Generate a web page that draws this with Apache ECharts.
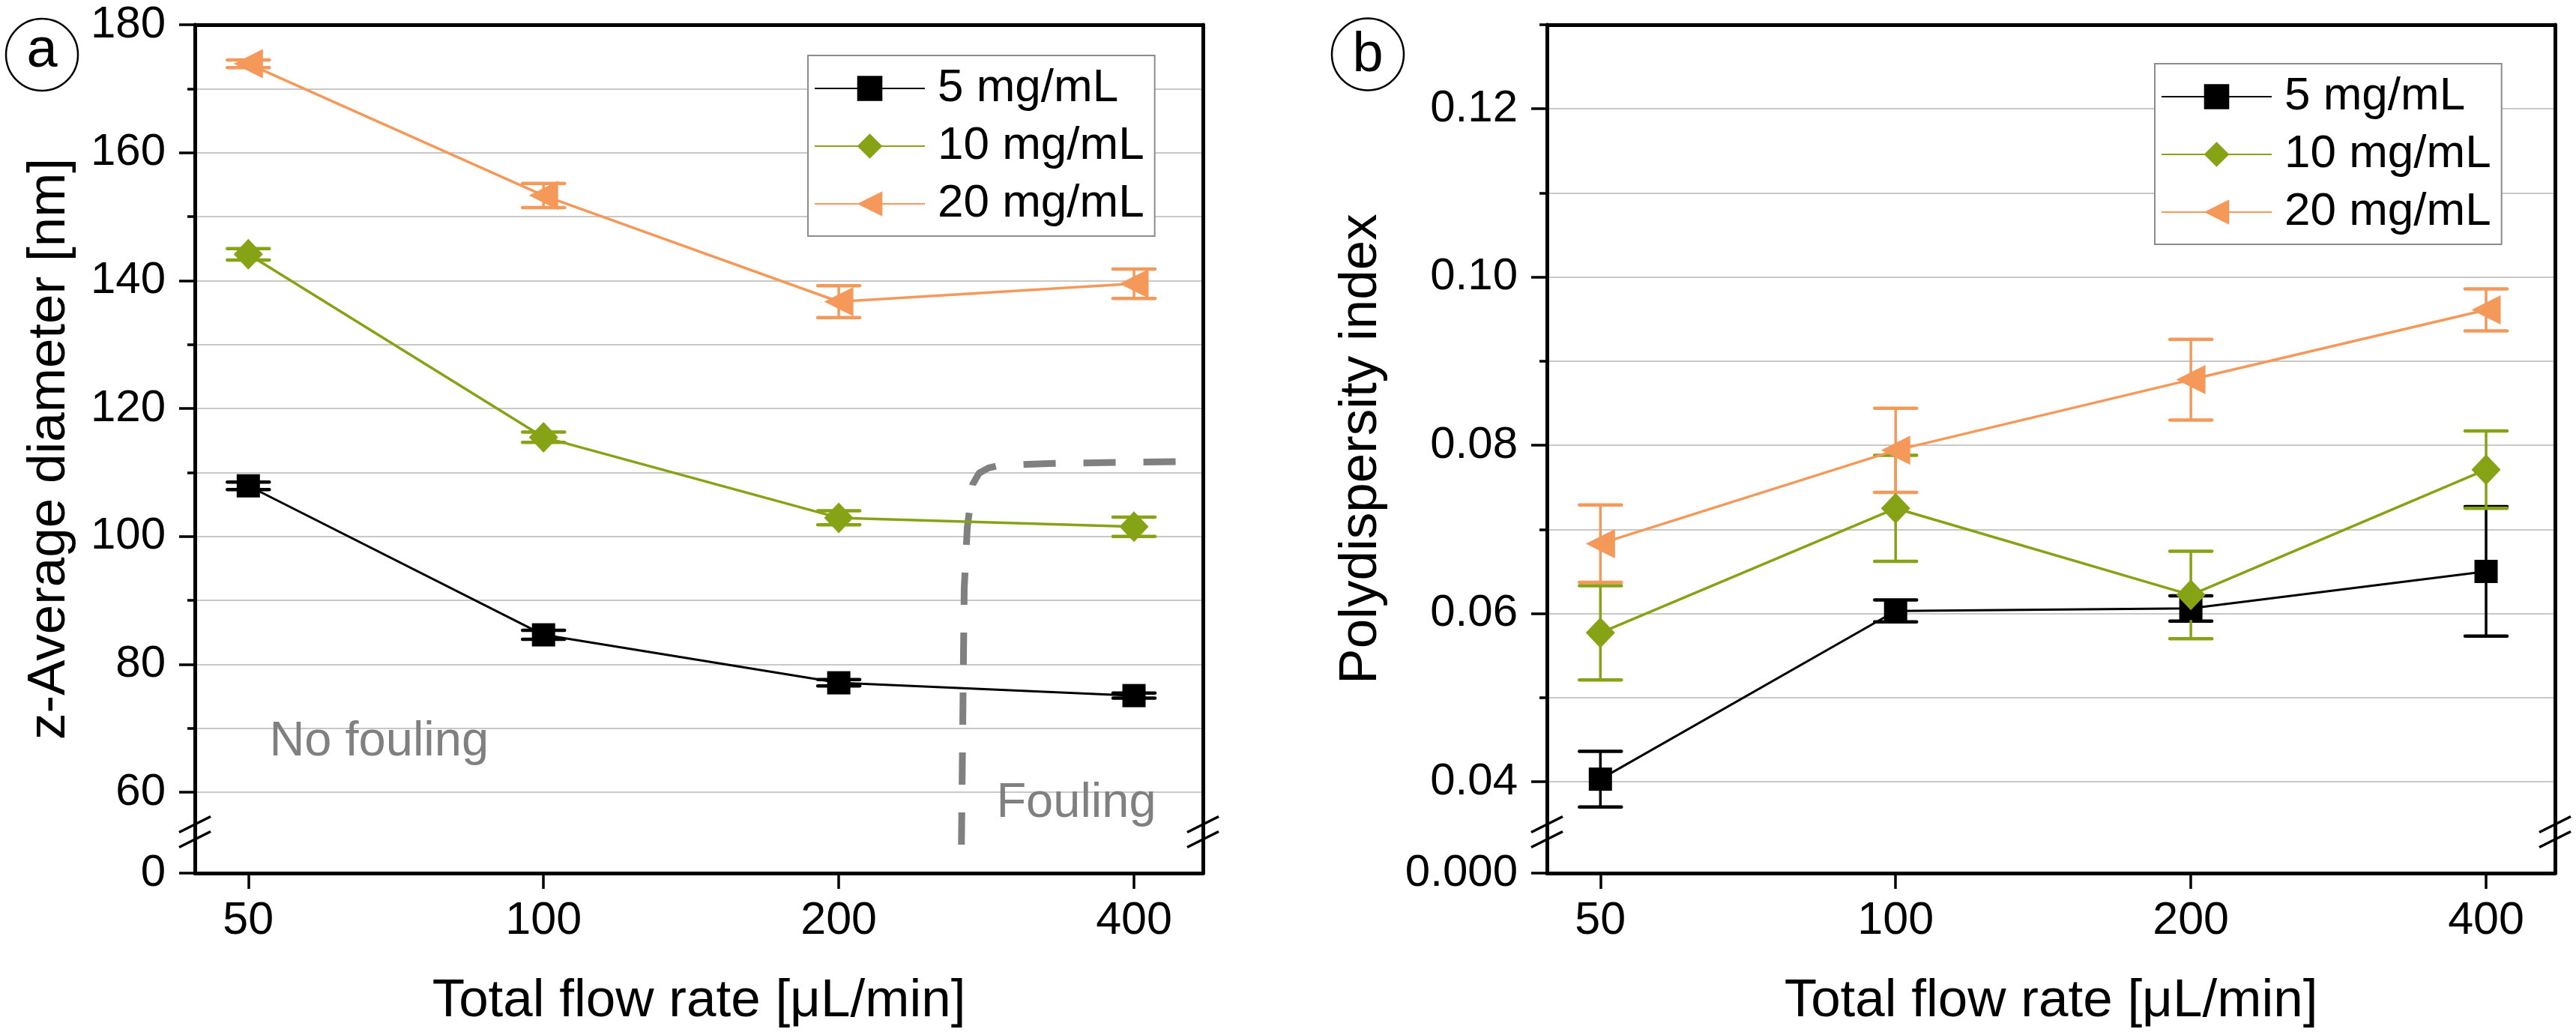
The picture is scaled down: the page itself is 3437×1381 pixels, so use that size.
<!DOCTYPE html>
<html>
<head>
<meta charset="utf-8">
<script src="https://cdn.jsdelivr.net/npm/echarts@6/dist/echarts.min.js"></script>
<style>
  html, body { margin: 0; padding: 0; background: #fff; }
  #chart { width: 3437px; height: 1381px; }
</style>
</head>
<body>
<div id="chart"></div>
<script>
// categories (x positions 0..3 on the axis)
const flowRates = ['50', '100', '200', '400'];
const seriesNames = ['5 mg/mL', '10 mg/mL', '20 mg/mL'];

// (a) z-average diameter [nm] and error
const zAvg5 = [107.9, 84.6, 77.1, 75.1];
const zAvg5Err = [0.6, 0.7, 0.5, 0.4];
const zAvg10 = [144.1, 115.5, 102.9, 101.5];
const zAvg10Err = [0.9, 0.8, 1.1, 1.5];
const zAvg20 = [173.9, 153.3, 136.7, 139.5];
const zAvg20Err = [0.6, 1.9, 2.5, 2.3];

// (b) polydispersity index and error
const pdi5 = [0.0403, 0.0603, 0.0606, 0.0650];
const pdi5Err = [0.0033, 0.0013, 0.0015, 0.0077];
const pdi10 = [0.0577, 0.0725, 0.0622, 0.0771];
const pdi10Err = [0.0056, 0.0063, 0.0052, 0.0046];
const pdi20 = [0.0683, 0.0794, 0.0878, 0.0961];
const pdi20Err = [0.0046, 0.0050, 0.0048, 0.0025];

// fouling boundary drawn in panel (a)
const foulingX = [2.4155, 2.4249, 2.4353, 2.4543, 2.4754, 2.5069, 2.5437, 2.712, 3.1586];
const foulingY = [51.8, 91.8, 101.4, 108.2, 109.9, 110.7, 111.1, 111.4, 111.7];

const FONT = 'Liberation Sans, Arial, sans-serif';
const BLACK = '#000000';
const GREEN = '#86a315';
const ORANGE = '#f5995b';
const GRID_GRAY = '#c8c8c8';

const X_MIN = -0.181;
const X_MAX = 3.2335;

function lineSeries(name, vals, color, symbol, size, rotate, xi, yi, width) {
  return {
    type: 'line',
    name: name,
    xAxisIndex: xi,
    yAxisIndex: yi,
    data: vals.map((v, i) => [i, v]),
    symbol: symbol,
    symbolSize: size,
    symbolRotate: rotate,
    showAllSymbol: true,
    lineStyle: { color: color, width: width },
    itemStyle: { color: color },
    z: 4,
    silent: true
  };
}

function errorSeries(name, vals, errs, color, xi, yi) {
  return {
    type: 'custom',
    name: name + ' err',
    xAxisIndex: xi,
    yAxisIndex: yi,
    clip: false,
    silent: true,
    z: 3,
    data: vals.map((v, i) => [i, v - errs[i], v + errs[i]]),
    renderItem: function (params, api) {
      const lo = api.coord([api.value(0), api.value(1)]);
      const hi = api.coord([api.value(0), api.value(2)]);
      const half = 28;
      const cap = { stroke: color, lineWidth: 4.5, lineCap: 'round' };
      return {
        type: 'group',
        children: [
          { type: 'line', shape: { x1: lo[0], y1: lo[1], x2: hi[0], y2: hi[1] }, style: { stroke: color, lineWidth: 3.5 } },
          { type: 'line', shape: { x1: lo[0] - half, y1: lo[1], x2: lo[0] + half, y2: lo[1] }, style: cap },
          { type: 'line', shape: { x1: hi[0] - half, y1: hi[1], x2: hi[0] + half, y2: hi[1] }, style: cap }
        ]
      };
    }
  };
}

const axisLineStyle = { show: true, onZero: false, lineStyle: { color: BLACK, width: 5 } };
const hidden = { show: false };

function frameAxes(gridIndex, xName, yName, yGap) {
  return {
    x: {
      type: 'value', gridIndex: gridIndex, min: 0, max: 1,
      axisLine: hidden, axisTick: hidden, axisLabel: hidden, splitLine: hidden,
      name: xName, nameLocation: 'middle', nameGap: 136,
      nameTextStyle: { fontSize: 71, color: BLACK, fontFamily: FONT }
    },
    y: {
      type: 'value', gridIndex: gridIndex, min: 0, max: 1,
      axisLine: hidden, axisTick: hidden, axisLabel: hidden, splitLine: hidden,
      name: yName, nameLocation: 'middle', nameGap: yGap, nameRotate: 90,
      nameTextStyle: { fontSize: 71, color: BLACK, fontFamily: FONT }
    }
  };
}

function topXAxis(gridIndex) {
  return {
    type: 'value', gridIndex: gridIndex, position: 'top', min: X_MIN, max: X_MAX,
    axisLine: axisLineStyle, axisTick: hidden, axisLabel: hidden, splitLine: hidden
  };
}

function bottomXAxis(gridIndex) {
  return {
    type: 'value', gridIndex: gridIndex, position: 'bottom', min: X_MIN, max: X_MAX,
    axisLine: axisLineStyle,
    axisTick: { show: true, customValues: [0, 1, 2, 3], length: 21, lineStyle: { color: BLACK, width: 3.5 } },
    axisLabel: {
      show: true, customValues: [0, 1, 2, 3], margin: 34,
      fontSize: 61, color: BLACK, fontFamily: FONT,
      formatter: function (v) { return flowRates[Math.round(v)]; }
    },
    splitLine: hidden
  };
}

function rightYAxis(gridIndex, min, max) {
  return {
    type: 'value', gridIndex: gridIndex, position: 'right', min: min, max: max,
    axisLine: axisLineStyle, axisTick: hidden, axisLabel: hidden, splitLine: hidden
  };
}

const fa = frameAxes(0, 'Total flow rate [μL/min]', 'z-Average diameter [nm]', 158);
const fb = frameAxes(3, 'Total flow rate [μL/min]', 'Polydispersity index', 212);

const xAxes = [
  fa.x, topXAxis(1), bottomXAxis(2),
  fb.x, topXAxis(4), bottomXAxis(5)
];

const yAxes = [
  fa.y,
  // 1: upper (a) main axis, minor ticks + grid lines
  {
    type: 'value', gridIndex: 1, position: 'left', min: 60, max: 180, interval: 10,
    axisLine: axisLineStyle,
    axisTick: { show: true, length: 10, lineStyle: { color: BLACK, width: 3.5 } },
    axisLabel: {
      show: true, margin: 39, fontSize: 60, color: BLACK, fontFamily: FONT,
      formatter: function (v) { return Math.round(v) % 20 === 0 ? String(Math.round(v)) : ''; }
    },
    splitLine: { show: true, lineStyle: { color: GRID_GRAY, width: 2 } }
  },
  // 2: upper (a) major ticks
  {
    type: 'value', gridIndex: 1, position: 'left', min: 60, max: 180, interval: 20,
    axisLine: { show: false, onZero: false },
    axisTick: { show: true, length: 21, lineStyle: { color: BLACK, width: 3.5 } },
    axisLabel: hidden, splitLine: hidden
  },
  rightYAxis(1, 60, 180),
  // 4: lower (a)
  {
    type: 'value', gridIndex: 2, position: 'left', min: 0, max: 1, interval: 1,
    axisLine: axisLineStyle,
    axisTick: { show: true, length: 21, lineStyle: { color: BLACK, width: 3.5 } },
    axisLabel: {
      show: true, margin: 39, fontSize: 60, color: BLACK, fontFamily: FONT,
      formatter: function (v) { return v === 0 ? '0' : ''; }
    },
    splitLine: hidden
  },
  rightYAxis(2, 0, 1),
  fb.y,
  // 7: upper (b) main axis
  {
    type: 'value', gridIndex: 4, position: 'left', min: 0.04, max: 0.13, interval: 0.01,
    axisLine: axisLineStyle,
    axisTick: { show: true, length: 10, lineStyle: { color: BLACK, width: 3.5 } },
    axisLabel: {
      show: true, margin: 39, fontSize: 60, color: BLACK, fontFamily: FONT,
      formatter: function (v) { return Math.round(v * 100) % 2 === 0 ? v.toFixed(2) : ''; }
    },
    splitLine: { show: true, lineStyle: { color: GRID_GRAY, width: 2 } }
  },
  // 8: upper (b) major ticks
  {
    type: 'value', gridIndex: 4, position: 'left', min: 0.04, max: 0.13, interval: 0.02,
    axisLine: { show: false, onZero: false },
    axisTick: { show: true, customValues: [0.04, 0.06, 0.08, 0.10, 0.12], length: 21, lineStyle: { color: BLACK, width: 3.5 } },
    axisLabel: hidden, splitLine: hidden
  },
  rightYAxis(4, 0.04, 0.13),
  // 10: lower (b)
  {
    type: 'value', gridIndex: 5, position: 'left', min: 0, max: 1, interval: 1,
    axisLine: axisLineStyle,
    axisTick: { show: true, length: 21, lineStyle: { color: BLACK, width: 3.5 } },
    axisLabel: {
      show: true, margin: 39, fontSize: 60, color: BLACK, fontFamily: FONT,
      formatter: function (v) { return v === 0 ? '0.000' : ''; }
    },
    splitLine: hidden
  },
  rightYAxis(5, 0, 1)
];

const grids = [
  { left: 260, top: 33, width: 1345, height: 1132, outerBoundsMode: 'none' },
  { left: 260, top: 33, width: 1345, height: 1024, outerBoundsMode: 'none' },
  { left: 260, top: 1057, width: 1345, height: 108, outerBoundsMode: 'none' },
  { left: 2064, top: 33, width: 1345, height: 1132, outerBoundsMode: 'none' },
  { left: 2064, top: 33, width: 1345, height: 1010, outerBoundsMode: 'none' },
  { left: 2064, top: 1043, width: 1345, height: 122, outerBoundsMode: 'none' }
];

const series = [
  errorSeries(seriesNames[0], zAvg5, zAvg5Err, BLACK, 1, 1),
  errorSeries(seriesNames[1], zAvg10, zAvg10Err, GREEN, 1, 1),
  errorSeries(seriesNames[2], zAvg20, zAvg20Err, ORANGE, 1, 1),
  lineSeries(seriesNames[0], zAvg5, BLACK, 'rect', 31, 0, 1, 1, 3),
  lineSeries(seriesNames[1], zAvg10, GREEN, 'diamond', [39, 41], 0, 1, 1, 3.5),
  lineSeries(seriesNames[2], zAvg20, ORANGE, 'triangle', 39, 90, 1, 1, 3.5),
  {
    type: 'line', name: 'fouling', xAxisIndex: 1, yAxisIndex: 1,
    data: foulingX.map((x, i) => [x, foulingY[i]]),
    symbol: 'none', clip: false, silent: true, z: 2,
    lineStyle: { color: '#808080', width: 9, type: [43, 37], cap: 'butt' }
  },
  errorSeries(seriesNames[0], pdi5, pdi5Err, BLACK, 4, 7),
  errorSeries(seriesNames[1], pdi10, pdi10Err, GREEN, 4, 7),
  errorSeries(seriesNames[2], pdi20, pdi20Err, ORANGE, 4, 7),
  lineSeries(seriesNames[0], pdi5, BLACK, 'rect', 31, 0, 4, 7, 3),
  lineSeries(seriesNames[1], pdi10, GREEN, 'diamond', [39, 41], 0, 4, 7, 3.5),
  lineSeries(seriesNames[2], pdi20, ORANGE, 'triangle', 39, 90, 4, 7, 3.5)
];

function legendAt(left, top) {
  return {
    data: seriesNames,
    left: left, top: top,
    orient: 'vertical',
    itemWidth: 147, itemHeight: 42, itemGap: 15,
    padding: [13, 14, 12, 8],
    borderColor: '#8c8c8c', borderWidth: 2, borderRadius: 0,
    backgroundColor: '#ffffff',
    selectedMode: false,
    textStyle: { fontSize: 62, color: BLACK, fontFamily: FONT, padding: [0, 0, 0, 12] }
  };
}

const chart = echarts.init(document.getElementById('chart'));
chart.setOption({
  animation: false,
  backgroundColor: '#ffffff',
  textStyle: { fontFamily: FONT },
  grid: grids,
  xAxis: xAxes,
  yAxis: yAxes,
  legend: [legendAt(1078, 74), legendAt(2875, 85)],
  series: series
});

// decorations: panel letters, axis break marks, fouling annotations
function breakMarks(x) {
  return [1100, 1120].map(function (yc) {
    return {
      type: 'line',
      shape: { x1: x - 21, y1: yc + 10.5, x2: x + 21, y2: yc - 10.5 },
      style: { stroke: BLACK, lineWidth: 3.5 },
      z: 20
    };
  });
}

function panelLabel(cx, cy, letter, ty) {
  return [
    { type: 'circle', shape: { cx: cx, cy: cy, r: 48 }, style: { fill: 'none', stroke: BLACK, lineWidth: 2.5 }, z: 20 },
    { type: 'text', x: cx, y: ty, style: { text: letter, fontSize: 74, fontFamily: FONT, fill: BLACK, align: 'center', verticalAlign: 'middle' }, z: 20 }
  ];
}

const noFoulPos = chart.convertToPixel({ xAxisIndex: 1, yAxisIndex: 1 }, [0.0713, 67.85]);
const foulPos = chart.convertToPixel({ xAxisIndex: 1, yAxisIndex: 1 }, [2.5338, 58.2]);

const graphics = []
  .concat(panelLabel(56, 73, 'a', 69))
  .concat(panelLabel(1825, 72.5, 'b', 75))
  .concat(breakMarks(260), breakMarks(1605), breakMarks(2064), breakMarks(3409))
  .concat([
    { type: 'text', x: noFoulPos[0], y: noFoulPos[1], style: { text: 'No fouling', fontSize: 65, fontFamily: FONT, fill: '#808080', align: 'left', verticalAlign: 'middle' }, z: 10 },
    { type: 'text', x: foulPos[0], y: foulPos[1], style: { text: 'Fouling', fontSize: 65, fontFamily: FONT, fill: '#808080', align: 'left', verticalAlign: 'middle' }, z: 10 }
  ]);

chart.setOption({ graphic: graphics });
</script>
</body>
</html>
